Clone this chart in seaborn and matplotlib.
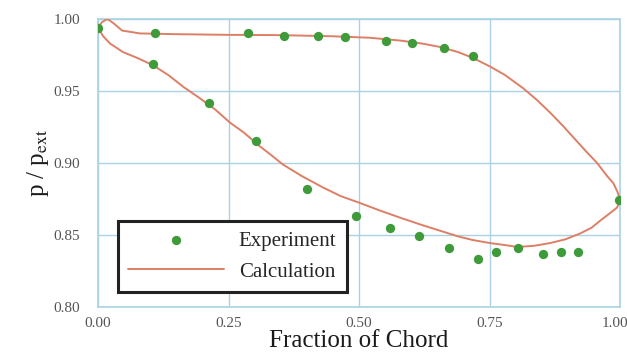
import numpy as np
import pandas as pd
import matplotlib
matplotlib.use("Agg")
import matplotlib.pyplot as plt
import matplotlib.transforms as mtransforms
from matplotlib.ticker import MultipleLocator
import seaborn as sns

# experiment (pressure taps), upper then lower surface
exp_x = [0.0, 0.109, 0.287, 0.356, 0.421, 0.473, 0.552, 0.602, 0.663, 0.718,
         0.105, 0.213, 0.303, 0.400, 0.494, 0.559, 0.615, 0.672, 0.728, 0.762,
         0.805, 0.852, 0.887, 0.920, 0.998]
exp_y = [0.994, 0.990, 0.990, 0.988, 0.988, 0.9875, 0.985, 0.983, 0.980, 0.974,
         0.969, 0.942, 0.915, 0.882, 0.863, 0.855, 0.849, 0.841, 0.833, 0.838,
         0.841, 0.837, 0.838, 0.838, 0.874]

# calculation, upper surface
calc_up_x = [0.0, 0.008, 0.018, 0.03, 0.046, 0.08, 0.144, 0.25, 0.35, 0.45, 0.52,
             0.58, 0.62, 0.655, 0.69, 0.718, 0.751, 0.78, 0.814, 0.84, 0.866,
             0.89, 0.91, 0.935, 0.956, 0.975, 0.987, 0.995, 1.0]
calc_up_y = [0.994, 0.998, 1.000, 0.997, 0.992, 0.990, 0.9895, 0.989, 0.9888, 0.988, 0.987,
             0.985, 0.983, 0.9806, 0.977, 0.973, 0.967, 0.961, 0.952, 0.944, 0.935,
             0.926, 0.918, 0.908, 0.900, 0.891, 0.886, 0.880, 0.874]

# calculation, lower surface
calc_lo_x = [0.0, 0.01, 0.023, 0.048, 0.075, 0.105, 0.135, 0.163, 0.195, 0.225, 0.253,
             0.28, 0.305, 0.33, 0.354, 0.39, 0.431, 0.465, 0.496, 0.54, 0.579, 0.62,
             0.655, 0.69, 0.718, 0.751, 0.78, 0.803, 0.835, 0.866, 0.895, 0.923,
             0.945, 0.962, 0.98, 0.994, 1.0]
calc_lo_y = [0.994, 0.988, 0.983, 0.977, 0.973, 0.968, 0.961, 0.953, 0.945, 0.937, 0.928,
             0.921, 0.913, 0.906, 0.899, 0.891, 0.883, 0.877, 0.873, 0.867, 0.862, 0.857,
             0.853, 0.849, 0.8465, 0.8444, 0.843, 0.8417, 0.8425, 0.8444, 0.847, 0.851,
             0.855, 0.860, 0.865, 0.869, 0.874]

x_ticks = [0.0, 0.25, 0.5, 0.75, 1.0]
y_ticks = [0.80, 0.85, 0.90, 0.95, 1.00]

GRID = "#a9d3e4"
LINE = "#dd7f66"
DOT = "#3f9b3a"

sns.set_style("white")
plt.rcParams["font.family"] = ["Liberation Serif", "DejaVu Serif"]
plt.rcParams["mathtext.fontset"] = "stix"

fig = plt.figure(figsize=(6.27, 3.56), dpi=100)
ax = fig.add_axes([0.1563, 0.1376, 0.8327, 0.809])

calc = pd.concat([
    pd.DataFrame({"x": calc_up_x, "y": calc_up_y, "side": "upper"}),
    pd.DataFrame({"x": calc_lo_x, "y": calc_lo_y, "side": "lower"}),
])
for i, (side, d) in enumerate(calc.groupby("side", sort=False)):
    sns.lineplot(data=d, x="x", y="y", sort=False, estimator=None, ax=ax,
                 color=LINE, linewidth=1.4,
                 label="Calculation" if i == 0 else None, zorder=3)

sns.scatterplot(x=exp_x, y=exp_y, ax=ax, color=DOT, s=45, edgecolor=DOT,
                linewidth=0, label="Experiment", zorder=4)

ax.set_xlim(0, 1.0)
ax.set_ylim(0.80, 1.00)
ax.set_xticks(x_ticks)
ax.set_xticklabels([f"{v:.2f}" for v in x_ticks])
ax.set_yticks(y_ticks)
ax.set_yticklabels([f"{v:.2f}" for v in y_ticks])
ax.xaxis.set_minor_locator(MultipleLocator(0.05))
ax.yaxis.set_minor_locator(MultipleLocator(0.01))
ax.tick_params(which="both", direction="in", color=GRID, labelsize=11,
               labelcolor="#555555")
ax.tick_params(axis="x", which="major", length=4, pad=7)
ax.tick_params(axis="y", which="major", length=4, pad=13)
ax.tick_params(which="minor", length=2.5)
ax.grid(True, which="major", color=GRID, linewidth=1)
for sp in ax.spines.values():
    sp.set_color(GRID)
    sp.set_linewidth(1.2)

# last x label sits at the figure edge; nudge it inward so it stays visible
last = ax.get_xticklabels()[-1]
last.set_horizontalalignment("right")
last.set_transform(last.get_transform() + mtransforms.ScaledTranslation(6 / 72, 0, fig.dpi_scale_trans))

ax.set_xlabel("Fraction of Chord", fontsize=18, color="#1a1a1a", labelpad=0)
ax.set_ylabel(r"p / p$_{\mathrm{ext}}$", fontsize=18, color="#1a1a1a", labelpad=2)

handles, labels = ax.get_legend_handles_labels()
order = [labels.index("Experiment"), labels.index("Calculation")]
leg = ax.legend([handles[k] for k in order], [labels[k] for k in order],
                loc="lower left", bbox_to_anchor=(0.038, 0.052), borderaxespad=0,
                frameon=True, fancybox=False, fontsize=15, handlelength=4.6,
                handletextpad=0.7, labelspacing=0.55, borderpad=0.5)
leg.get_frame().set_edgecolor("#222222")
leg.get_frame().set_linewidth(2.2)
leg.get_frame().set_alpha(1)

fig.savefig("out.png", dpi=100)
